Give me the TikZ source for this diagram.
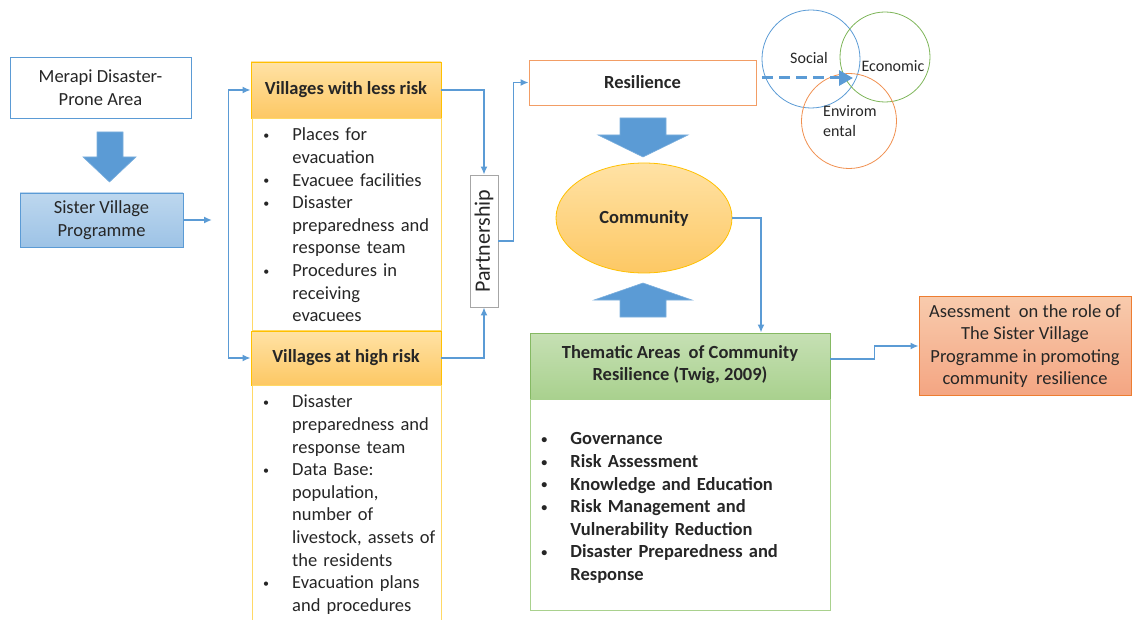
\documentclass[tikz,border=0pt]{standalone}
\usepackage{fontspec}
\setmainfont{Carlito}
\usetikzlibrary{arrows.meta, positioning, calc, shapes}
\definecolor{lineblue}{RGB}{91,155,213}
\definecolor{gold}{RGB}{255,192,0}
\definecolor{lightgold}{RGB}{255,217,102}
\definecolor{hdrtop}{RGB}{255,226,165}
\definecolor{hdrbot}{RGB}{253,200,100}
\definecolor{greenedge}{RGB}{112,173,71}
\definecolor{greenlight}{RGB}{169,209,142}
\definecolor{greentop}{RGB}{198,224,180}
\definecolor{orangeedge}{RGB}{237,125,49}
\definecolor{salmontop}{RGB}{248,203,173}
\definecolor{salmonbot}{RGB}{244,165,130}
\definecolor{svptop}{RGB}{189,215,238}
\definecolor{svpbot}{RGB}{157,195,230}
\definecolor{txt}{RGB}{38,38,38}

\newcommand{\bodyfont}{\fontsize{18.5pt}{22.6pt}\selectfont}
\newcommand{\circfont}{\fontsize{16pt}{20pt}\selectfont}
\newcommand{\smallbullet}{{\fontsize{12pt}{12pt}\selectfont\raisebox{1.5pt}{\textbullet}}}
% bullet list with hanging text
\newenvironment{blist}{\begin{list}{\smallbullet}{%
  \setlength{\leftmargin}{29pt}\setlength{\labelwidth}{29pt}%
  \setlength{\rightmargin}{-30pt}%
  \setlength{\labelsep}{0pt}\setlength{\itemsep}{0pt}%
  \setlength{\parsep}{0pt}\setlength{\topsep}{0pt}\setlength{\partopsep}{0pt}%
  \def\makelabel##1{##1\hfil}}\raggedright}{\end{list}}

\begin{document}
\begin{tikzpicture}[x=1pt, y=-1pt, font=\bodyfont, text=txt,
  conn/.style={draw=lineblue, line width=1.6pt},
  tip/.style={-{Latex[length=8pt,width=7pt]}},
  bigarrow/.style={fill=lineblue, draw=lineblue!80!white, line width=0.6pt},
  hdr/.style={top color=hdrtop, bottom color=hdrbot, draw=gold, line width=0.8pt,
    minimum width=190, font=\bodyfont\bfseries},
  listbox/.style={anchor=north west, inner xsep=11pt, inner ysep=0pt, align=left},
  ring/.style={circle, inner sep=0pt, line width=0.8pt}]
\useasboundingbox (0,0) rectangle (1132,620);

% left column
\node[draw=lineblue, line width=0.8pt, fill=white, minimum width=181, minimum height=61,
  align=center] (merapi) at (100.5,87.5) {Merapi Disaster-\\Prone Area};
\node[top color=svptop, bottom color=svpbot, draw=lineblue, line width=0.8pt,
  minimum width=163, minimum height=54, align=center] (svp) at (101.5,220)
  {Sister Village\\Programme};
\fill[bigarrow] (97,132) -- (123,132) -- (123,157) -- (136,157) -- (109.5,182)
  -- (83,157) -- (97,157) -- cycle;
\coordinate (svpend) at (212,220);
\draw[conn, tip] (svp.east) -- (svpend);

% villages
\node[hdr, minimum height=56] (less) at (346,90) {Villages with less risk};
\node[listbox, draw=lightgold, line width=0.8pt, text width=167, minimum height=207]
  (lesslist) at (252,118) {%
  \begin{blist}
  \item Places for\\evacuation
  \item Evacuee facilities
  \item Disaster\\preparedness and\\response team
  \item Procedures in\\receiving\\evacuees
  \end{blist}\vspace{8pt}};
\node[hdr, minimum height=54] (high) at (346,358) {Villages at high risk};
\node[listbox, text width=167, minimum height=235] (highlist) at (252,385) {%
  \begin{blist}
  \item Disaster\\preparedness and\\response team
  \item Data Base:\\population,\\number of\\livestock, assets of\\the residents
  \item Evacuation plans\\and procedures
  \end{blist}\vspace{6pt}};
\draw[lightgold, line width=0.8pt] (highlist.south west) -- (highlist.north west)
  -- (highlist.north east) -- (highlist.south east);
\draw[conn, {Latex[length=8pt,width=7pt]}-{Latex[length=8pt,width=7pt]}]
  (less.west) -- ++(-22,0) |- (high.west);

% partnership
\node[draw=black!35, line width=0.8pt, fill=white, minimum width=28, minimum height=132,
  inner sep=0pt, font=\fontsize{22pt}{24pt}\selectfont] (part) at (484,241)
  {\rotatebox{90}{Partnership}};
\draw[conn, tip] (less.east) -| (part.north);
\draw[conn, tip] (high.east) -| (part.south);

% resilience and community
\node[draw=orangeedge!75, line width=0.8pt, fill=white, minimum width=227, minimum height=45,
  font=\bodyfont\bfseries] (res) at (642.5,82.5) {Resilience};
\draw[conn, tip] (part.east) -- ++(15,0) |- (res.west);
\node[ellipse, top color=hdrtop, bottom color=hdrbot, draw=gold, line width=0.8pt,
  minimum width=176, minimum height=110, font=\bodyfont\bfseries] (comm) at (644,218)
  {Community};
\fill[bigarrow] (620,118) -- (666,118) -- (666,135) -- (688,135) -- (643,157)
  -- (598,135) -- (620,135) -- cycle;
\fill[bigarrow] (620,317) -- (666,317) -- (666,300) -- (692,300) -- (643,283)
  -- (594,300) -- (620,300) -- cycle;

% social, economic, environmental rings
\node[ring, draw=lineblue, minimum size=98] (social) at (811,59) {};
\node[ring, draw=greenedge!90, minimum size=90] (econ) at (885,57) {};
\node[ring, draw=orangeedge!85, minimum size=95] (env) at (849,121) {};
\node[font=\circfont] (soclab) at (809,58) {Social};
\node[font=\circfont] (ecolab) at (893,66) {Economic};
\node[font=\circfont, align=left, anchor=west, inner xsep=0pt] (envlab) at (823,121)
  {Envirom\\ental};
\coordinate (dashend) at (853,78);
\draw[lineblue, line width=3pt, dash pattern=on 11pt off 6pt,
  -{Triangle[length=14pt,width=15pt]}] ($(res.east)+(6,-4.5)$) -- (dashend);

% thematic areas
\node[top color=greentop, bottom color=greenlight, draw=greenedge!85, line width=0.8pt,
  minimum width=300, minimum height=66, align=center, font=\bodyfont\bfseries]
  (thm) at (680,366)
  {Thematic Areas\ \ of Community\\Resilience (Twig, 2009)\rule[-6pt]{0pt}{6pt}};
\node[listbox, draw=greenlight, line width=0.8pt, text width=278, minimum height=211,
  font=\bodyfont\bfseries] (thmlist) at (530,399) {%
  \begin{blist}
  \item Governance
  \item Risk Assessment
  \item Knowledge and Education
  \item Risk Management and\\Vulnerability Reduction
  \item Disaster Preparedness and\\Response
  \end{blist}\vspace{4pt}};
\draw[conn, tip] (comm.east) -| ([xshift=81pt]thm.north);

% assessment
\node[top color=salmontop, bottom color=salmonbot, draw=orangeedge, line width=0.8pt,
  minimum width=212, minimum height=99, align=center] (asm) at (1025,346)
  {Asessment\ \ on the role of\\The Sister Village\\Programme in promoting\\community\ \ resilience};
\draw[conn, tip] ([yshift=7pt]thm.east) -- ++(44,0) |- (asm.west);
\end{tikzpicture}
\end{document}
